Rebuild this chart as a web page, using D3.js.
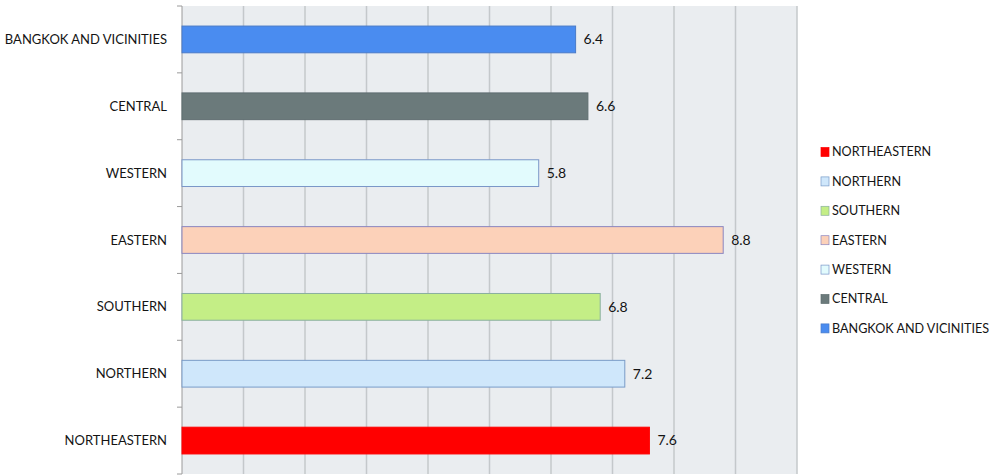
<!DOCTYPE html>
<html lang="en">
<head>
    <meta charset="UTF-8" />
    <title>Regions bar chart</title>
    <script src="https://d3js.org/d3.v7.min.js"></script>
    <style>
        body { margin: 0; background: #fff; }
        text { font-family: Lato, "Open Sans", sans-serif; fill: #141414; }
    </style>
</head>
<body>
    <script>
        // categories, top to bottom as drawn
        var regions = ["BANGKOK AND VICINITIES", "CENTRAL", "WESTERN", "EASTERN", "SOUTHERN", "NORTHERN", "NORTHEASTERN"];
        var values = [6.4, 6.6, 5.8, 8.8, 6.8, 7.2, 7.6];
        var colors = ["#4a8cf0", "#6b7a7b", "#e2fbfd", "#fcd1b9", "#c4ee86", "#cfe7fb", "#ff0000"];
        var borders = ["#4a7bc8", "#5f6e70", "#7a96c8", "#8a86c0", "#8ab0a0", "#7a9cc8", "#ff0000"];
        var legendOrder = ["NORTHEASTERN", "NORTHERN", "SOUTHERN", "EASTERN", "WESTERN", "CENTRAL", "BANGKOK AND VICINITIES"];
        var xTicks = [0, 1, 2, 3, 4, 5, 6, 7, 8, 9, 10];

        var w = 993;
        var h = 476;
        // plot area edges (avoid the name "top", it is window.top)
        var plotL = 182, plotR = 797, plotT = 6, plotB = 474;

        var svg = d3.select("body")
            .append("svg")
            .attr("width", w)
            .attr("height", h);

        var xScale = d3.scaleLinear()
            .domain([0, 10])
            .range([plotL, plotR]);

        var yScale = d3.scaleBand()
            .domain(regions)
            .range([plotT, plotB])
            .paddingInner(0.6)
            .paddingOuter(0.3);

        // plot background
        svg.append("rect")
            .attr("x", plotL)
            .attr("y", plotT)
            .attr("width", plotR - plotL)
            .attr("height", plotB - plotT)
            .attr("fill", "#eaedf0");

        // vertical gridlines
        svg.selectAll("line.grid")
            .data(xTicks.slice(1))
            .enter()
            .append("line")
            .attr("class", "grid")
            .attr("x1", function (d) { return xScale(d); })
            .attr("x2", function (d) { return xScale(d); })
            .attr("y1", plotT)
            .attr("y2", plotB)
            .attr("stroke", "#c4c8cb")
            .attr("stroke-width", 1.5);

        // category axis with ticks at band edges
        var edges = d3.range(regions.length + 1).map(function (i) { return plotT + i * (plotB - plotT) / regions.length; });
        svg.append("line")
            .attr("x1", plotL).attr("x2", plotL)
            .attr("y1", plotT).attr("y2", plotB)
            .attr("stroke", "#9a9a9a");
        svg.selectAll("line.tick")
            .data(edges)
            .enter()
            .append("line")
            .attr("class", "tick")
            .attr("x1", plotL - 5).attr("x2", plotL)
            .attr("y1", function (d) { return d; })
            .attr("y2", function (d) { return d; })
            .attr("stroke", "#9a9a9a");

        svg.selectAll("text.cat")
            .data(regions)
            .enter()
            .append("text")
            .attr("class", "cat")
            .attr("x", plotL - 15)
            .attr("y", function (d) { return yScale(d) + yScale.bandwidth() / 2; })
            .attr("dy", "0.35em")
            .attr("text-anchor", "end")
            .attr("font-size", "13px")
            .text(function (d) { return d; });

        // bars
        svg.selectAll("rect.bar")
            .data(values)
            .enter()
            .append("rect")
            .attr("class", "bar")
            .attr("x", xScale(0))
            .attr("y", function (d, i) { return yScale(regions[i]); })
            .attr("width", function (d) { return xScale(d) - xScale(0); })
            .attr("height", yScale.bandwidth())
            .attr("fill", function (d, i) { return colors[i]; })
            .attr("stroke", function (d, i) { return borders[i]; })
            .attr("stroke-width", 1);

        // value labels
        svg.selectAll("text.val")
            .data(values)
            .enter()
            .append("text")
            .attr("class", "val")
            .attr("x", function (d) { return xScale(d) + 8; })
            .attr("y", function (d, i) { return yScale(regions[i]) + yScale.bandwidth() / 2; })
            .attr("dy", "0.35em")
            .attr("font-size", "14px")
            .text(function (d) { return d.toFixed(1); });

        // legend
        var legend = svg.selectAll("g.leg")
            .data(legendOrder)
            .enter()
            .append("g")
            .attr("class", "leg")
            .attr("transform", function (d, i) { return "translate(821," + (152 + i * 29.4) + ")"; });

        legend.append("rect")
            .attr("x", 0)
            .attr("y", -4.5)
            .attr("width", 8)
            .attr("height", 9)
            .attr("fill", function (d) { return colors[regions.indexOf(d)]; })
            .attr("stroke", function (d) { return borders[regions.indexOf(d)]; })
            .attr("stroke-width", 0.7);

        legend.append("text")
            .attr("x", 11)
            .attr("y", 0)
            .attr("dy", "0.35em")
            .attr("font-size", "12.6px")
            .text(function (d) { return d; });
    </script>
</body>
</html>
